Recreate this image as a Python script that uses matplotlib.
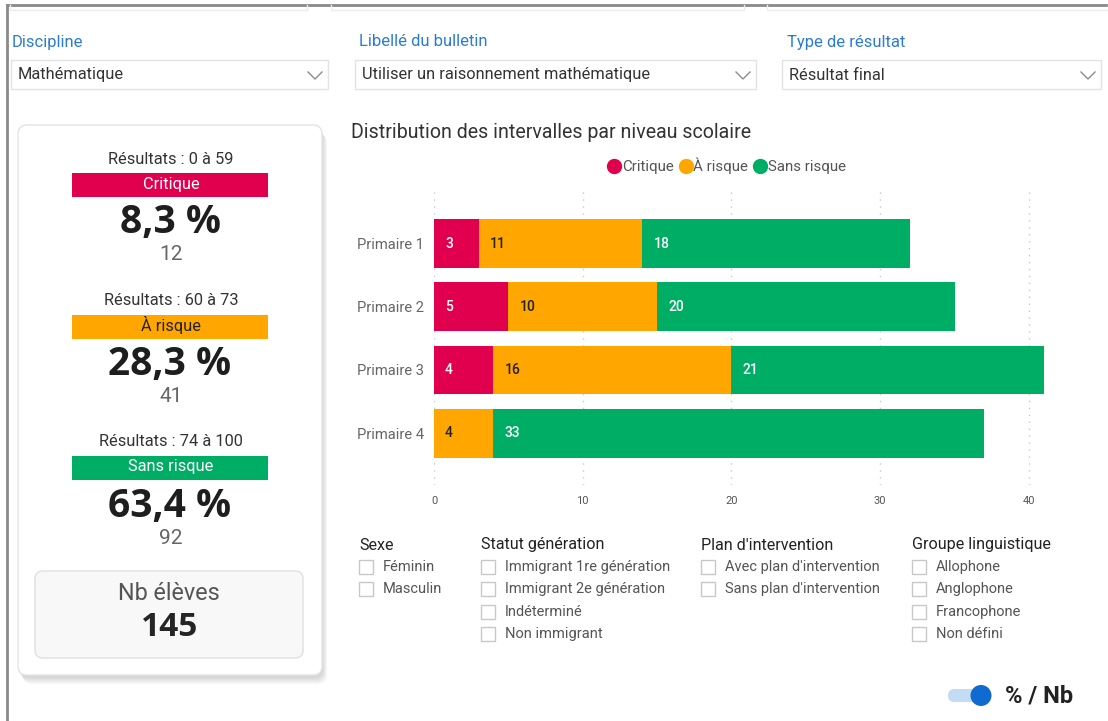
import matplotlib.pyplot as plt
from matplotlib.patches import FancyBboxPatch, Rectangle, Circle
from matplotlib.lines import Line2D

# data
levels = ['Primaire 1', 'Primaire 2', 'Primaire 3', 'Primaire 4']
critique = [3, 5, 4, 0]
a_risque = [11, 10, 16, 4]
sans_risque = [18, 20, 21, 33]
series_names = ['Critique', 'À risque', 'Sans risque']
series_colors = ['#e0004d', '#ffa600', '#00ad65']
label_colors = ['white', '#222222', 'white']
ranges = ['Résultats : 0 à 59', 'Résultats : 60 à 73', 'Résultats : 74 à 100']
x_ticks = [0, 10, 20, 30, 40]

filters = {
    'Sexe': ['Féminin', 'Masculin'],
    'Statut génération': ['Immigrant 1re génération', 'Immigrant 2e génération',
                          'Indéterminé', 'Non immigrant'],
    "Plan d'intervention": ["Avec plan d'intervention", "Sans plan d'intervention"],
    'Groupe linguistique': ['Allophone', 'Anglophone', 'Francophone', 'Non défini'],
}
slicers = [('Discipline', 'Mathématique'),
           ('Libellé du bulletin', 'Utiliser un raisonnement mathématique'),
           ('Type de résultat', 'Résultat final')]

plt.rcParams['font.family'] = ['Roboto', 'DejaVu Sans']

W, H = 1108, 721
fig = plt.figure(figsize=(W / 100, H / 100), dpi=100)
bg = fig.add_axes([0, 0, 1, 1])
bg.set_xlim(0, W)
bg.set_ylim(H, 0)
bg.axis('off')


def txt(x, y, s, **kw):
    kw.setdefault('va', 'center')
    bg.text(x, y, s, **kw)


# outer frame and faint boxes at top
bg.plot([7, 7], [5, H], color='#8a8a8a', lw=2)
bg.plot([7, W], [5, 5], color='#8a8a8a', lw=2)
for x0, x1 in [(10, 307), (331, 744), (767, 1108)]:
    bg.plot([x0, x0, x1, x1], [5, 10, 10, 5], color='#ececec', lw=1)

# slicers
slicer_x = [(11, 328, 12), (355, 756, 359), (782, 1101, 787)]
for (title, value), (x0, x1, tx) in zip(slicers, slicer_x):
    txt(tx, 42, title, color='#2b7cd3', fontsize=12)
    bg.add_patch(Rectangle((x0, 60), x1 - x0, 29, fc='white', ec='#e3e3e3', lw=1))
    txt(x0 + 7, 75, value, color='#333333', fontsize=11.8)
    bg.plot([x1 - 20, x1 - 13, x1 - 6], [72, 79, 72], color='#8c8c8c', lw=1)

# left card with shadow
for i in range(8):
    bg.add_patch(FancyBboxPatch((18 + 1 + i * 0.6, 125 + 3 + i * 0.9), 304, 550,
                                boxstyle='round,pad=0,rounding_size=9',
                                fc='#000000', ec='none', alpha=0.018))
bg.add_patch(FancyBboxPatch((18, 125), 304, 550, boxstyle='round,pad=0,rounding_size=9',
                            fc='white', ec='#e4e4e4', lw=1))

counts = [sum(critique), sum(a_risque), sum(sans_risque)]
total = sum(counts)
for i, (rng, name, col, lc, n) in enumerate(zip(ranges, series_names, series_colors,
                                                  label_colors, counts)):
    y0 = 158 + i * 141.5
    txt(171, y0 + 1, rng, ha='center', color='#333333', fontsize=11.8)
    bg.add_patch(Rectangle((72, y0 + 15), 196, 24, fc=col, ec='none'))
    txt(171, y0 + 26, name, ha='center', color=lc, fontsize=11.8)
    pct = f'{n / total * 100:.1f}'.replace('.', ',') + ' %'
    txt(170, y0 + 65, pct, ha='center', color='#1e1e1e', fontsize=28,
        fontweight='bold', family=['Open Sans', 'DejaVu Sans'])
    txt(171, y0 + 97, str(n), ha='center', color='#666666', fontsize=15)

bg.add_patch(FancyBboxPatch((35, 571), 268, 87, boxstyle='round,pad=0,rounding_size=8',
                            fc='#f8f8f8', ec='#e0e0e0', lw=1))
txt(169, 593, 'Nb élèves', ha='center', color='#555555', fontsize=16.8)
txt(170, 628, str(total), ha='center', color='#252525', fontsize=24,
    fontweight='bold', family=['Open Sans', 'DejaVu Sans'])

# chart title
txt(351, 133, 'Distribution des intervalles par niveau scolaire', color='#333333',
    fontsize=14.1)

# bar chart
ax_l, ax_r, ax_t, ax_b = 434, 1046.8, 188, 485
ax = fig.add_axes([ax_l / W, 1 - ax_b / H, (ax_r - ax_l) / W, (ax_b - ax_t) / H])
ax.set_facecolor('none')
ypos = list(range(len(levels)))
left = [0] * len(levels)
for vals, name, col, lc in zip([critique, a_risque, sans_risque], series_names,
                               series_colors, label_colors):
    bars = ax.barh(ypos, vals, left=left, height=0.775, color=col, label=name,
                   edgecolor='none', zorder=3)
    for b, v, l0 in zip(bars, vals, left):
        if v > 0:
            ax.annotate(str(v), (l0, b.get_y() + b.get_height() / 2),
                        xytext=(8, 0), textcoords='offset points', va='center',
                        ha='left', color=lc, fontsize=10, fontweight='medium', zorder=4)
    left = [a + b for a, b in zip(left, vals)]

ax.set_xlim(0, 41.2)
ax.set_ylim(3.82, -0.88)
ax.set_yticks(ypos)
ax.set_yticklabels(levels, fontsize=10.6, color='#666666')
ax.set_xticks(x_ticks)
ax.set_xticklabels([str(t) for t in x_ticks], fontsize=8, color='#555555')
ax.tick_params(length=0, pad=7)
ax.tick_params(axis='x', pad=8)
ax.grid(axis='x', color='#c8c8c8', lw=1, linestyle=(0, (1, 4)), zorder=0)
for s in ax.spines.values():
    s.set_visible(False)

handles = [Line2D([], [], marker='o', ls='none', color=c, markersize=10)
           for c in series_colors]
fig.legend(handles, series_names, loc='center', bbox_to_anchor=(727 / W, 1 - 166 / H),
           ncol=3, frameon=False, fontsize=10.8, handletextpad=0.1, columnspacing=0.4,
           labelcolor='#555555', handlelength=0.8)

# filter checkboxes
filter_x = [359, 481, 701, 912]
for (title, items), fx in zip(filters.items(), filter_x):
    txt(fx, 545, title, color='#222222', fontsize=11.6)
    for j, it in enumerate(items):
        yy = 567 + j * 22.3
        bg.add_patch(Rectangle((fx, yy - 7), 14, 14, fc='white', ec='#c8c8c8', lw=1))
        txt(fx + 24, yy, it, color='#555555', fontsize=10.5)

# toggle
bg.add_patch(FancyBboxPatch((948, 689), 42, 13, boxstyle='round,pad=0,rounding_size=6.5',
                            fc='#c3dbf4', ec='none'))
bg.add_patch(Circle((981, 695.5), 10.5, fc='#0f6bcf', ec='none'))
txt(1005, 696, '% / Nb', color='#222222', fontsize=17, fontweight='bold')

fig.savefig('out.png', dpi=100)
